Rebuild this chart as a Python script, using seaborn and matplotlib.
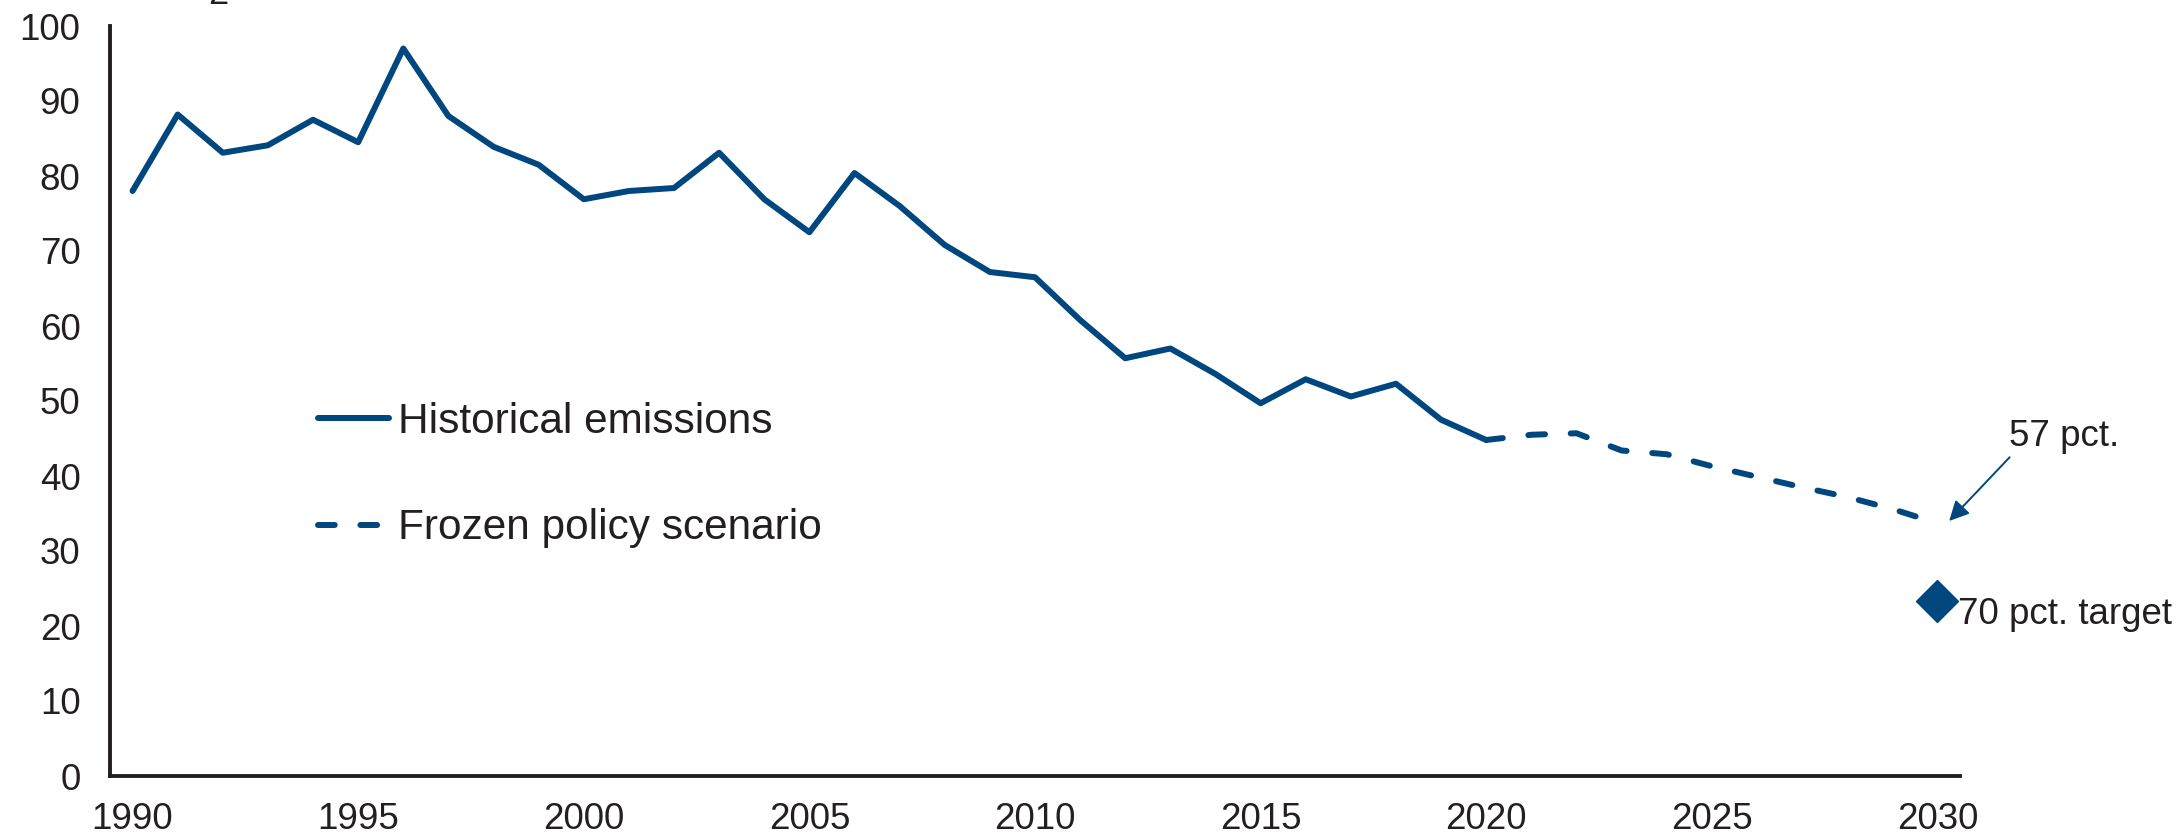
import matplotlib
matplotlib.use("Agg")
import matplotlib.pyplot as plt
import seaborn as sns
import pandas as pd

# Emissions index, 1990 = reference year
hist_years = list(range(1990, 2021))
hist_values = [78.0, 88.2, 83.1, 84.1, 87.5, 84.5, 97.0, 88.0, 83.9, 81.5,
               76.9, 78.0, 78.4, 83.1, 76.9, 72.5, 80.4, 76.0, 70.8, 67.2,
               66.5, 60.8, 55.7, 57.0, 53.6, 49.7, 52.9, 50.6, 52.3, 47.5,
               44.8]

frozen_years = list(range(2020, 2031))
frozen_values = [44.8, 45.5, 45.7, 43.4, 42.9, 41.3, 39.9, 38.5, 37.2, 35.6, 33.7]

target_year = [2030]
target_value = [23.4]

x_ticks = [1990, 1995, 2000, 2005, 2010, 2015, 2020, 2025, 2030]
y_ticks = [0, 10, 20, 30, 40, 50, 60, 70, 80, 90, 100]

series_labels = ["Historical emissions", "Frozen policy scenario"]
reduction_label = "57 pct."
target_label = "70 pct. target"

sns.set_style("white")
plt.rcParams["font.family"] = ["Liberation Sans", "DejaVu Sans"]

BLUE = "#00477F"
INK = "#231F20"

W, H = 2181, 835
fig = plt.figure(figsize=(W / 100, H / 100), dpi=100)
ax = fig.add_axes([110 / W, 59 / H, 1850 / W, 750 / H])

hist_df = pd.DataFrame({"year": hist_years, "value": hist_values})
frozen_df = pd.DataFrame({"year": frozen_years, "value": frozen_values})

sns.lineplot(data=hist_df, x="year", y="value", ax=ax, color=BLUE,
             linewidth=4.3, solid_capstyle="round", label=series_labels[0])
sns.lineplot(data=frozen_df, x="year", y="value", ax=ax, color=BLUE,
             linewidth=4.3, linestyle=(0, (2.8, 4.3)), dash_capstyle="round",
             label=series_labels[1])
ax.plot(target_year, target_value, linestyle="none", marker="D",
        markersize=21, color=BLUE, zorder=5)

ax.set_xlim(1989.5, 2030.5)
ax.set_ylim(0, 100)
ax.set_xticks(x_ticks)
ax.set_xticklabels([str(y) for y in x_ticks])
ax.set_yticks(y_ticks)
ax.set_yticklabels([str(v) for v in y_ticks])
ax.set_xlabel("")
ax.set_ylabel("")

sns.despine(ax=ax)
for side in ("left", "bottom"):
    ax.spines[side].set_color(INK)
    ax.spines[side].set_linewidth(2.8)

ax.tick_params(axis="x", length=0, pad=19, labelsize=26.5, colors=INK)
ax.tick_params(axis="y", direction="out", length=5.8, width=2.8, pad=15.5,
               labelsize=26.5, colors=INK)

ax.legend(loc="center left", bbox_to_anchor=(318 / W, 1 - 475 / H),
          bbox_transform=fig.transFigure, frameon=False, fontsize=30.5,
          handlelength=1.68, handletextpad=0.2, labelspacing=1.58,
          borderpad=0, borderaxespad=0, labelcolor=INK)

# Callouts at the end of the projection
ax.annotate("", xy=(2030.26, 34.0), xytext=(2031.6, 42.5),
            arrowprops=dict(arrowstyle="-|>", color=BLUE, lw=1.4,
                            mutation_scale=30, shrinkA=0, shrinkB=0),
            annotation_clip=False)
ax.text(2031.58, 44.0, reduction_label, fontsize=26.5, color=INK,
        ha="left", va="baseline")
ax.text(2030.45, 20.2, target_label, fontsize=26.5, color=INK,
        ha="left", va="baseline")

# Unit subscript from the heading above the plot
fig.text(218 / W, 1 - 4 / H, "2", fontsize=26, color=INK,
         ha="center", va="baseline")

fig.savefig("out.png", dpi=100)
